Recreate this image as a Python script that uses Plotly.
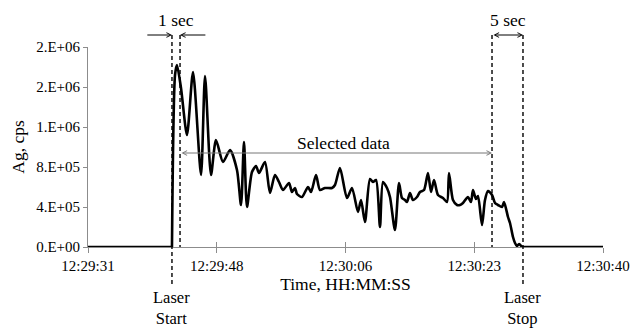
import numpy as np
import plotly.graph_objects as go

# Ag signal, seconds elapsed since 12:29:31 and counts in units of 1e6 cps
ELAPSED_S = [0.0, 11.25, 11.66, 11.92, 12.46, 13.26, 14.07, 15.14, 15.68, 16.48,
             17.15, 18.09, 19.03, 19.96, 20.50, 20.90, 21.30, 21.97, 22.51, 22.91,
             23.71, 24.38, 25.05, 25.59, 26.13, 26.93, 27.33, 27.73, 28.00, 28.67,
             29.48, 29.88, 30.55, 31.08, 31.75, 32.69, 33.09, 33.76, 34.70, 35.37,
             36.17, 36.58, 37.11, 37.78, 38.18, 38.59, 39.12, 39.52, 40.06, 40.46,
             41.13, 41.67, 42.07, 42.47, 42.74, 43.14, 43.54, 44.08, 44.48, 45.02,
             45.55, 45.96, 46.36, 46.89, 47.56, 48.10, 48.37, 48.90, 49.44, 49.84,
             50.24, 50.91, 51.31, 51.58, 51.98, 52.25, 52.79, 53.19, 53.59, 54.13,
             54.53, 54.93, 55.47, 55.74, 56.27, 56.54, 56.94, 57.21, 57.48, 57.75,
             58.15, 69.0]
AG_MCPS = [0, 0, 1.72, 1.82, 1.59, 1.12, 1.75, 0.72, 1.71, 0.72,
           1.07, 0.85, 0.97, 0.77, 0.42, 1.05, 0.40, 0.75, 0.81, 0.74,
           0.85, 0.54, 0.72, 0.65, 0.57, 0.64, 0.55, 0.59, 0.53, 0.50,
           0.60, 0.55, 0.72, 0.57, 0.59, 0.59, 0.62, 0.79, 0.49, 0.59,
           0.35, 0.47, 0.25, 0.68, 0.65, 0.67, 0.20, 0.65, 0.59, 0.50,
           0.17, 0.64, 0.49, 0.47, 0.45, 0.54, 0.47, 0.50, 0.55, 0.57,
           0.74, 0.55, 0.67, 0.52, 0.49, 0.45, 0.74, 0.47, 0.42, 0.42,
           0.44, 0.50, 0.45, 0.57, 0.48, 0.51, 0.22, 0.47, 0.56, 0.52,
           0.44, 0.42, 0.40, 0.45, 0.30, 0.24, 0.10, 0.04, 0.01, 0.03,
           0, 0]

TIME_LABELS = ["12:29:31", "12:29:48", "12:30:06", "12:30:23", "12:30:40"]
Y_TICKS = [0, 4e5, 8e5, 1.2e6, 1.6e6, 2.0e6]
Y_LABELS = ["0.E+00", "4.E+05", "8.E+05", "1.E+06", "2.E+06", "2.E+06"]

# Event markers (seconds since 12:29:31)
LASER_START = 11.25
SELECT_START = 12.33
SELECT_END = 54.13
LASER_STOP = 58.28

SPAN = 69.0
FONT = "Liberation Serif, Times New Roman, serif"
AXIS_GREY = "#8c8c8c"
LINE = dict(color="black", width=2.6)

x_ticks = np.linspace(0, SPAN, len(TIME_LABELS))
ag = [v * 1e6 for v in AG_MCPS]

fig = go.Figure()
# flat background before and after ablation, straight segments
fig.add_trace(go.Scatter(x=ELAPSED_S[:2], y=ag[:2], mode="lines",
                         line=LINE, hoverinfo="skip", showlegend=False))
fig.add_trace(go.Scatter(x=ELAPSED_S[-2:], y=ag[-2:], mode="lines",
                         line=LINE, hoverinfo="skip", showlegend=False))
# smoothed transient signal while the laser is firing
fig.add_trace(go.Scatter(
    x=ELAPSED_S[1:-1], y=ag[1:-1], mode="lines",
    line=dict(LINE, shape="spline", smoothing=0.7),
    hoverinfo="skip", showlegend=False,
))
# helper trace so the overlay axis (inner half of the crossing ticks) is drawn
fig.add_trace(go.Scatter(x=[0, SPAN], y=[0, 0], xaxis="x2", mode="lines",
                         line=dict(width=0), hoverinfo="skip", showlegend=False))


def paper_x(t):
    return t / SPAN


def py(pix):
    # pixel row -> paper fraction of the plotting area (top 47, bottom 247)
    return (247 - pix) / 200.0


shapes = []
for t, bottom in [(LASER_START, 285), (SELECT_START, 247),
                  (SELECT_END, 247), (LASER_STOP, 285)]:
    shapes.append(dict(type="line", xref="paper", yref="paper",
                       x0=paper_x(t), x1=paper_x(t), y0=py(35), y1=py(bottom),
                       line=dict(color="black", width=1.4, dash="4px,3px")))

annotations = []
arrow_kw = dict(xref="x", axref="x", yref="paper", ayref="pixel", ay=0,
                text="", showarrow=True, arrowhead=5, arrowsize=0.9,
                arrowwidth=1, arrowcolor="black")
# 1 sec arrows pointing inward
annotations.append(dict(x=LASER_START, ax=LASER_START - 3.5, y=py(35), **arrow_kw))
annotations.append(dict(x=SELECT_START, ax=SELECT_START + 3.6, y=py(35), **arrow_kw))
# 5 sec double arrow
annotations.append(dict(x=LASER_STOP, ax=SELECT_END, y=py(35),
                        arrowside="end+start", **arrow_kw))
# selected data double arrow
sel_kw = dict(arrow_kw)
sel_kw.update(arrowcolor="#777777", yref="y")
annotations.append(dict(x=SELECT_END, ax=SELECT_START, y=(247 - 153) * 1e4,
                        arrowside="end+start", **sel_kw))

text_kw = dict(showarrow=False, yanchor="middle",
               font=dict(family=FONT, size=17.5, color="black"))
annotations.append(dict(x=(LASER_START + SELECT_START) / 2, y=py(20), xref="x",
                        yref="paper", text="1 sec", **text_kw))
annotations.append(dict(x=(SELECT_END + LASER_STOP) / 2, y=py(20), xref="x",
                        yref="paper", text="5 sec", **text_kw))
annotations.append(dict(x=34.2, y=(247 - 143) * 1e4, xref="x", yref="y",
                        text="Selected data", **text_kw))
for t, word in [(LASER_START, "Start"), (LASER_STOP, "Stop")]:
    annotations.append(dict(x=t, y=py(307.5), xref="x", yref="paper",
                            text="Laser<br>" + word, showarrow=False,
                            yanchor="middle",
                            font=dict(family=FONT, size=16.5, color="black")))

fig.update_layout(
    width=632, height=329,
    margin=dict(l=88, r=29, t=47, b=82),
    paper_bgcolor="white", plot_bgcolor="white",
    font=dict(family=FONT, size=15, color="black"),
    showlegend=False,
    shapes=shapes,
    annotations=annotations,
    xaxis=dict(
        range=[0, SPAN], tickvals=x_ticks, ticktext=TIME_LABELS,
        showgrid=False, zeroline=False, showline=True, linecolor=AXIS_GREY,
        linewidth=1, ticks="outside", ticklen=5, tickcolor=AXIS_GREY,
        tickfont=dict(family=FONT, size=15), automargin=False,
        title=dict(text="Time, HH:MM:SS", font=dict(family=FONT, size=17.5),
                   standoff=3),
    ),
    xaxis2=dict(
        range=[0, SPAN], overlaying="x", anchor="y", side="bottom",
        tickvals=x_ticks, showticklabels=False, showgrid=False, zeroline=False,
        showline=False, ticks="inside", ticklen=5, tickcolor=AXIS_GREY,
        automargin=False,
    ),
    yaxis=dict(
        range=[0, 2.0e6], tickvals=Y_TICKS, ticktext=Y_LABELS,
        showgrid=False, zeroline=False, showline=True, linecolor=AXIS_GREY,
        linewidth=1, ticks="outside", ticklen=4, tickcolor=AXIS_GREY,
        tickfont=dict(family=FONT, size=15), automargin=False,
        title=dict(text="Ag, cps", font=dict(family=FONT, size=17.5), standoff=7),
    ),
)

fig.write_html("out.html")
